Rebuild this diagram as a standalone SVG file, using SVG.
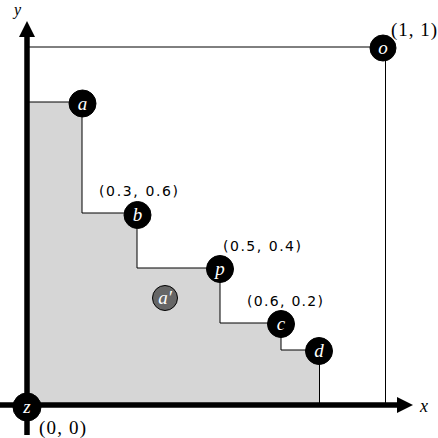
<svg xmlns="http://www.w3.org/2000/svg" width="438" height="438" viewBox="0 0 438 438">
<style>
.node{fill:#000;stroke:#000;stroke-width:1}
.lbl{fill:#fff;font-family:"Liberation Serif",serif;font-style:italic;font-size:19px;text-anchor:middle}
.coord{fill:#000;font-family:"DejaVu Sans",sans-serif;font-size:14px}
.math{fill:#000;font-family:"Liberation Serif",serif;font-size:19px}
.ax{fill:#000;font-family:"Liberation Serif",serif;font-style:italic;font-size:18px}
.thin{fill:none;stroke:#000;stroke-width:1}
</style>
<rect width="438" height="438" fill="#fff"/>
<path d="M27,102 H82 V213 H137 V268 H220 V323 H281 V350 H319.5 V405 H27 Z" fill="#d6d6d6"/>
<g id="connectors">
<path class="thin" d="M27,102 H82 V213 H137 V268 H220 V323 H281 V350 H319.5 V405"/>
<path class="thin" d="M27,47 H385.5 V405"/>
<path d="M0,405 H398" stroke="#000" stroke-width="5.5" fill="none"/>
<path d="M27,435 V36" stroke="#000" stroke-width="5.5" fill="none"/>
<polygon points="413,405 397,397 397,413" fill="#000"/>
<polygon points="27,21 19,37 35,37" fill="#000"/>
</g>
<text class="ax" x="420" y="412">x</text>
<text class="ax" x="14" y="15" style="font-size:16px">y</text>
<g id="node-o"><circle class="node" cx="383" cy="48" r="13"/><text class="lbl" x="383" y="54">o</text></g>
<text class="math" x="391" y="36" textLength="46" lengthAdjust="spacing">(1, 1)</text>
<g id="node-a"><circle class="node" cx="82.5" cy="103.5" r="13.5"/><text class="lbl" x="82.5" y="109.5">a</text></g>
<g id="node-b"><circle class="node" cx="137.5" cy="215" r="13.5"/><text class="lbl" x="137.5" y="221">b</text></g>
<text class="coord" x="99" y="196" textLength="79" lengthAdjust="spacing">(0.3, 0.6)</text>
<g id="node-p"><circle class="node" cx="220" cy="269" r="13.5"/><text class="lbl" x="220" y="275">p</text></g>
<text class="coord" x="223" y="251" textLength="78" lengthAdjust="spacing">(0.5, 0.4)</text>
<g id="node-c"><circle class="node" cx="281" cy="324" r="13.5"/><text class="lbl" x="281" y="330">c</text></g>
<text class="coord" x="247" y="306" textLength="76" lengthAdjust="spacing">(0.6, 0.2)</text>
<g id="node-d"><circle class="node" cx="319" cy="351" r="13.5"/><text class="lbl" x="319" y="357">d</text></g>
<g id="node-a-prime"><circle cx="165" cy="298" r="12.5" fill="#666" stroke="#000" stroke-width="1"/><text class="lbl" x="165" y="304">a′</text></g>
<g id="node-z"><circle class="node" cx="27" cy="407" r="14"/><text class="lbl" x="27" y="413">z</text></g>
<text class="math" x="39" y="434" textLength="47" lengthAdjust="spacing">(0, 0)</text>
</svg>
